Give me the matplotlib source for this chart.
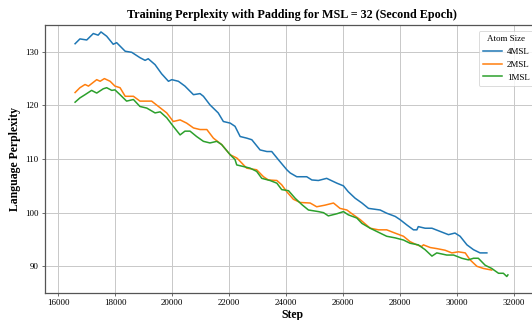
import matplotlib
matplotlib.use("Agg")
import matplotlib.pyplot as plt

plt.rcParams['font.family'] = ['Liberation Serif', 'DejaVu Serif']

# Values
steps_4msl = [16590, 16760, 17000, 17230, 17400, 17500, 17700, 17930, 18050, 18350,
              18580, 18870, 19050, 19160, 19400, 19630, 19870, 19990, 20220, 20450,
              20750, 20980, 21100, 21330, 21620, 21800, 22040, 22210, 22390, 22620,
              22800, 23090, 23330, 23500, 23730, 24030, 24150, 24380, 24730, 24910,
              25140, 25430, 25550, 25790, 26020, 26190, 26430, 26670, 26900, 27310,
              27540, 27840, 28010, 28250, 28480, 28600, 28650, 28890, 29130, 29420,
              29710, 29940, 30120, 30360, 30590, 30820, 31060]
ppl_4msl = [131.5, 132.4, 132.2, 133.4, 133.1, 133.7, 132.9, 131.4, 131.7, 130.1,
            129.9, 128.9, 128.4, 128.7, 127.6, 125.9, 124.5, 124.8, 124.5, 123.6,
            122.0, 122.2, 121.7, 120.1, 118.6, 117.0, 116.7, 116.1, 114.2, 113.9,
            113.6, 111.7, 111.4, 111.4, 109.9, 108.0, 107.4, 106.7, 106.7, 106.1,
            106.0, 106.4, 106.1, 105.5, 105.0, 103.9, 102.7, 101.8, 100.8, 100.5,
            99.9, 99.3, 98.7, 97.7, 96.8, 96.8, 97.4, 97.1, 97.1, 96.5,
            95.9, 96.2, 95.6, 94.0, 93.1, 92.5, 92.5]

steps_2msl = [16590, 16760, 16940, 17060, 17350, 17470, 17620, 17820, 17990, 18170,
              18350, 18640, 18870, 19110, 19280, 19520, 19810, 20040, 20280, 20510,
              20750, 20980, 21220, 21450, 21740, 22040, 22270, 22330, 22620, 22970,
              23210, 23380, 23680, 23850, 24030, 24260, 24500, 24850, 25080, 25370,
              25670, 25900, 26140, 26370, 26610, 26960, 27250, 27540, 27780, 28130,
              28360, 28600, 28770, 28830, 29070, 29300, 29590, 29830, 30060, 30300,
              30470, 30710, 30940, 31230]
ppl_2msl = [122.4, 123.3, 123.9, 123.6, 124.8, 124.5, 125.0, 124.5, 123.6, 123.3,
            121.7, 121.7, 120.8, 120.8, 120.8, 119.8, 118.6, 117.0, 117.3, 116.7,
            115.8, 115.5, 115.5, 113.9, 112.7, 110.8, 110.2, 109.9, 108.3, 108.0,
            106.7, 106.1, 106.0, 105.2, 103.9, 102.5, 101.9, 101.8, 101.1, 101.4,
            101.8, 100.8, 100.5, 99.6, 98.7, 97.1, 96.8, 96.8, 96.3, 95.6,
            94.6, 94.0, 93.7, 94.0, 93.5, 93.3, 93.0, 92.5, 92.7, 92.5,
            91.2, 90.0, 89.6, 89.3]

steps_1msl = [16590, 16760, 16940, 17170, 17350, 17580, 17700, 17880, 17990, 18170,
              18400, 18640, 18870, 19110, 19400, 19580, 19810, 20040, 20280, 20450,
              20630, 20860, 21100, 21330, 21570, 21740, 22040, 22210, 22270, 22510,
              22740, 22970, 23150, 23440, 23680, 23850, 24090, 24320, 24560, 24790,
              25140, 25320, 25490, 25790, 26020, 26190, 26490, 26670, 26960, 27190,
              27540, 27840, 28130, 28360, 28650, 28890, 29130, 29300, 29650, 29890,
              30180, 30410, 30590, 30760, 31000, 31230, 31470, 31640, 31760, 31800]
ppl_1msl = [120.6, 121.4, 122.0, 122.8, 122.3, 123.1, 123.3, 122.8, 122.9, 122.0,
            120.8, 121.1, 119.8, 119.5, 118.6, 118.8, 117.7, 116.1, 114.5, 115.2,
            115.2, 114.2, 113.3, 113.0, 113.3, 112.7, 110.8, 109.9, 108.9, 108.6,
            108.3, 107.7, 106.4, 106.0, 105.5, 104.3, 104.1, 102.7, 101.5, 100.5,
            100.2, 100.0, 99.4, 99.8, 100.2, 99.6, 99.0, 98.0, 97.1, 96.5,
            95.6, 95.3, 94.9, 94.3, 94.0, 93.1, 91.9, 92.5, 92.1, 92.1,
            91.5, 91.2, 91.5, 91.5, 90.2, 89.6, 88.7, 88.7, 88.1, 88.4]

fig = plt.figure(figsize=(5.32, 3.2), dpi=100)
ax = fig.add_axes([0.0846, 0.084, 0.93, 0.838])

ax.plot(steps_4msl, ppl_4msl, color='#1f77b4', lw=1.1, label='4MSL')
ax.plot(steps_2msl, ppl_2msl, color='#ff7f0e', lw=1.1, label='2MSL')
ax.plot(steps_1msl, ppl_1msl, color='#2ca02c', lw=1.1, label='1MSL')

ax.set_xlim(15533, 32919)
ax.set_ylim(85, 135)
ax.set_xticks(range(16000, 32001, 2000))
ax.set_yticks([90, 100, 110, 120, 130])
ax.tick_params(labelsize=6.5, length=2.5, width=0.6, color='#555555', pad=2)
ax.grid(True, color='#c8c8c8', lw=0.7)
for s in ax.spines.values():
    s.set_color('#555555')
    s.set_linewidth(0.9)

ax.set_title('Training Perplexity with Padding for MSL = 32 (Second Epoch)',
             fontsize=8.7, fontweight='bold', pad=5)
ax.set_xlabel('Step', fontsize=8.5, fontweight='bold', labelpad=1)
ax.set_ylabel('Language Perplexity', fontsize=8.5, fontweight='bold', labelpad=3)

leg = ax.legend(title='Atom Size', loc='upper left', bbox_to_anchor=(0.8998, 0.903),
                bbox_transform=fig.transFigure, borderaxespad=0,
                fontsize=6.5, title_fontsize=6.5, frameon=True,
                handlelength=2.1, handletextpad=0.6, borderpad=0.45,
                labelspacing=0.5)
leg.get_frame().set_edgecolor('#cccccc')
leg.get_frame().set_linewidth(0.6)

fig.savefig('out.png', dpi=100)
